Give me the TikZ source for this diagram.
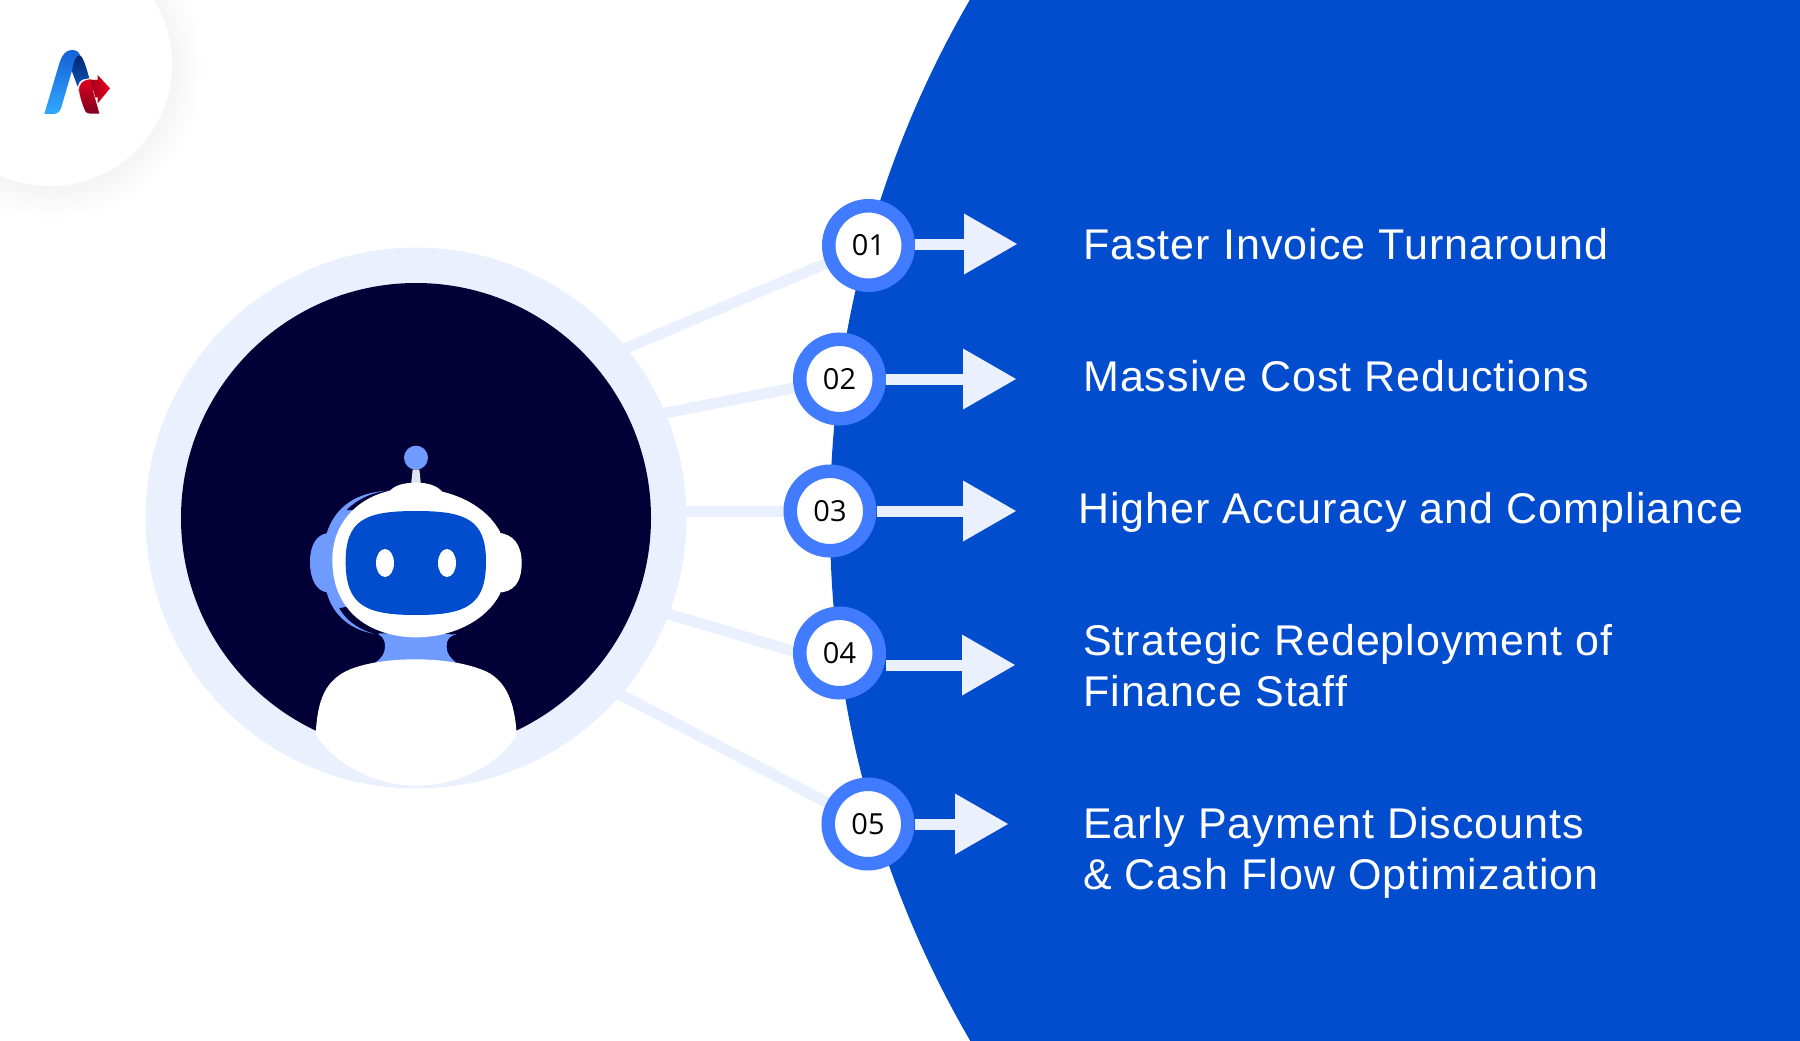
\documentclass[tikz,border=0pt]{standalone}
\usepackage{fontspec}
\setmainfont{Liberation Sans}
\newfontfamily\labelfont[LetterSpace=2.4]{Liberation Sans}
\newfontfamily\numfont{Open Sans}
\definecolor{bigblue}{RGB}{2,76,206}
\definecolor{navy}{RGB}{3,0,55}
\definecolor{pale}{RGB}{234,240,254}
\definecolor{badgeblue}{RGB}{65,123,255}
\definecolor{softblue}{RGB}{111,155,255}
\definecolor{stemgrey}{RGB}{224,227,236}
\definecolor{logoA}{RGB}{22,96,214}
\definecolor{logoB}{RGB}{48,168,255}
\definecolor{logoC}{RGB}{0,38,110}
\definecolor{logoD}{RGB}{14,84,186}
\definecolor{logoE}{RGB}{222,0,32}
\definecolor{logoF}{RGB}{125,0,30}
\definecolor{logoG}{RGB}{165,0,28}
\definecolor{logoH}{RGB}{232,0,30}
\tikzset{
  x=1pt,y=-1pt,
  spoke/.style={draw=pale,line width=11pt},
  badge/.style={circle,draw=badgeblue,line width=13.5pt,fill=white,minimum size=79.5pt,inner sep=0pt,text=black,font=\numfont\fontsize{29}{29}\selectfont},
  shaft/.style={draw=pale,line width=11pt},
  headtip/.style={fill=pale},
  lab/.style={anchor=base west,inner sep=0pt,text=white,align=left,font=\labelfont\fontsize{43}{51}\selectfont},
}
\begin{document}
\begin{tikzpicture}
\useasboundingbox (0,0) rectangle (1800,1041);
\clip (0,0) rectangle (1800,1041);
% big blue disc
\fill[bigblue] (1866,520) circle[radius=1036];
% logo disc with soft shadow
\foreach \r in {150,147,144,141,138,135,132,129,126,123}
  \fill[black,opacity=0.004] (52,68) circle[radius=\r];
\fill[white] (50,64) circle[radius=122];
% logo
\begin{scope}[scale=1/3]
  \shade[bottom color=logoD,top color=logoC] (215,212) .. controls (218,180) and (225,165) .. (238,165) .. controls (250,170) and (258,200) .. (268,235) -- (250,238) .. controls (240,242) and (235,250) .. (233,260) -- cycle;
  \shade[bottom color=logoB,top color=logoA] (133,342) -- (178,190) .. controls (186,165) and (198,150) .. (215,150) .. controls (228,150) and (236,155) .. (240,165) .. controls (228,165) and (220,185) .. (216,212) -- (184,322) .. controls (180,335) and (172,342) .. (160,342) -- cycle;
  \shadedraw[draw=white,line width=0.7pt,top color=logoE,bottom color=logoF] (270,237) .. controls (248,238) and (235,250) .. (236,272) .. controls (238,290) and (248,320) .. (255,335) .. controls (258,340) and (262,342) .. (270,342) -- (300,342) -- (280,272) -- (293,240) -- cycle;
  \shade[left color=logoG,right color=logoH] (272,240) -- (293,240) -- (293,225) -- (330,265) -- (293,310) -- (293,292) -- (286,292) -- (280,272) -- cycle;
\end{scope}
% hub
\node[circle,fill=pale,minimum size=541pt,inner sep=0pt] (hub) at (416,518) {};
\node[circle,fill=navy,minimum size=470pt,inner sep=0pt] (hubinner) at (416,518) {};
% anchors on the hub for the spokes
\coordinate (s1) at (605,357);
\coordinate (s2) at (650,416);
\coordinate (s3) at (660,511);
\coordinate (s4) at (650,608.5);
\coordinate (s5) at (604,686);
% robot
\begin{scope}[shift={(280,420)},scale=1/3]
  \fill[stemgrey] (398,148) -- (418,148) -- (423,195) -- (393,195) -- cycle;
  \fill[softblue] (408,113) circle[radius=36];
  % neck
  \fill[softblue] (290,640) .. controls (305,648) and (315,655) .. (315,680) .. controls (315,700) and (305,715) .. (285,728) -- (530,728) .. controls (510,715) and (500,700) .. (500,680) .. controls (500,655) and (510,648) .. (530,643) -- cycle;
  % left ear and crescent
  \fill[softblue] (330,212) .. controls (230,215) and (165,260) .. (140,340) .. controls (110,345) and (90,375) .. (90,425) .. controls (90,480) and (110,512) .. (140,517) .. controls (160,590) and (215,630) .. (285,642) .. controls (220,600) and (170,530) .. (170,430) .. controls (170,320) and (230,240) .. (330,212) -- cycle;
  % dark slivers between crescent and head
  \fill[navy] (332,211) .. controls (280,216) and (235,235) .. (200,270) -- (230,270) -- (335,225) -- cycle;
  \fill[navy] (178,565) .. controls (205,610) and (245,632) .. (295,645) -- (300,625) -- (200,560) -- cycle;
  % right ear
  \fill[white] (650,338) .. controls (700,340) and (725,375) .. (725,428) .. controls (725,490) and (700,518) .. (650,518) -- cycle;
  % head
  \fill[white] (330,212) .. controls (345,195) and (375,188) .. (408,188) .. controls (445,188) and (470,197) .. (487,215) .. controls (570,235) and (630,280) .. (660,335) -- (672,430) -- (660,522) .. controls (620,600) and (520,652) .. (408,652) .. controls (290,652) and (157,590) .. (157,420) .. controls (157,310) and (230,235) .. (330,212) -- cycle;
  % face
  \fill[bigblue] (408,273) .. controls (560,273) and (618,300) .. (618,425) .. controls (618,555) and (560,585) .. (408,585) .. controls (255,585) and (197,555) .. (197,425) .. controls (197,300) and (255,273) .. (408,273) -- cycle;
  \fill[white] (315,429) ellipse[x radius=27,y radius=42];
  \fill[white] (501,429) ellipse[x radius=27,y radius=42];
  % body
  \fill[white] (107,945) .. controls (112,840) and (135,780) .. (210,748) .. controls (270,725) and (340,718) .. (408,718) .. controls (480,718) and (560,728) .. (620,755) .. controls (680,785) and (705,850) .. (710,945) .. controls (650,1040) and (530,1097) .. (408,1097) .. controls (285,1097) and (170,1035) .. (107,945) -- cycle;
\end{scope}
% spokes
\draw[spoke] (s1) -- (868.5,245.5);
\draw[spoke] (s2) -- (839.5,379);
\draw[spoke] (s3) -- (830,511);
\draw[spoke] (s4) -- (839.5,665);
\draw[spoke] (s5) -- (868,824);
% badges
\node[badge] (b1) at (868.5,245.5) {01};
\node[badge] (b2) at (839.5,379) {02};
\node[badge] (b3) at (830,511) {03};
\node[badge] (b4) at (839.5,653) {04};
\node[badge] (b5) at (868,824) {05};
% arrows
\coordinate (h1) at (964,244);
\coordinate (h2) at (963,379);
\coordinate (h3) at (963,511);
\coordinate (h4) at (962,665);
\coordinate (h5) at (955,824);
\draw[shaft] (b1.east |- h1) -- (h1);
\draw[shaft] (b2.east |- h2) -- (h2);
\draw[shaft] (b3.east |- h3) -- (h3);
\draw[shaft] (b4.east |- h4) -- (h4);
\draw[shaft] (b5.east |- h5) -- (h5);
\foreach \n in {1,...,5}
  \fill[headtip] (h\n) ++(0,-30.5) -- ++(53,30.5) -- ++(-53,30.5) -- cycle;
% labels
\node[lab] (t1) at (1083,259) {Faster Invoice Turnaround};
\node[lab] (t2) at (1083,391) {Massive Cost Reductions};
\node[lab] (t3) at (1078,523) {Higher Accuracy and Compliance};
\node[lab] (t4) at (1083,706) {Strategic Redeployment of\\Finance Staff};
\node[lab] (t5) at (1083,889) {Early Payment Discounts\\\& Cash Flow Optimization};
\end{tikzpicture}
\end{document}
